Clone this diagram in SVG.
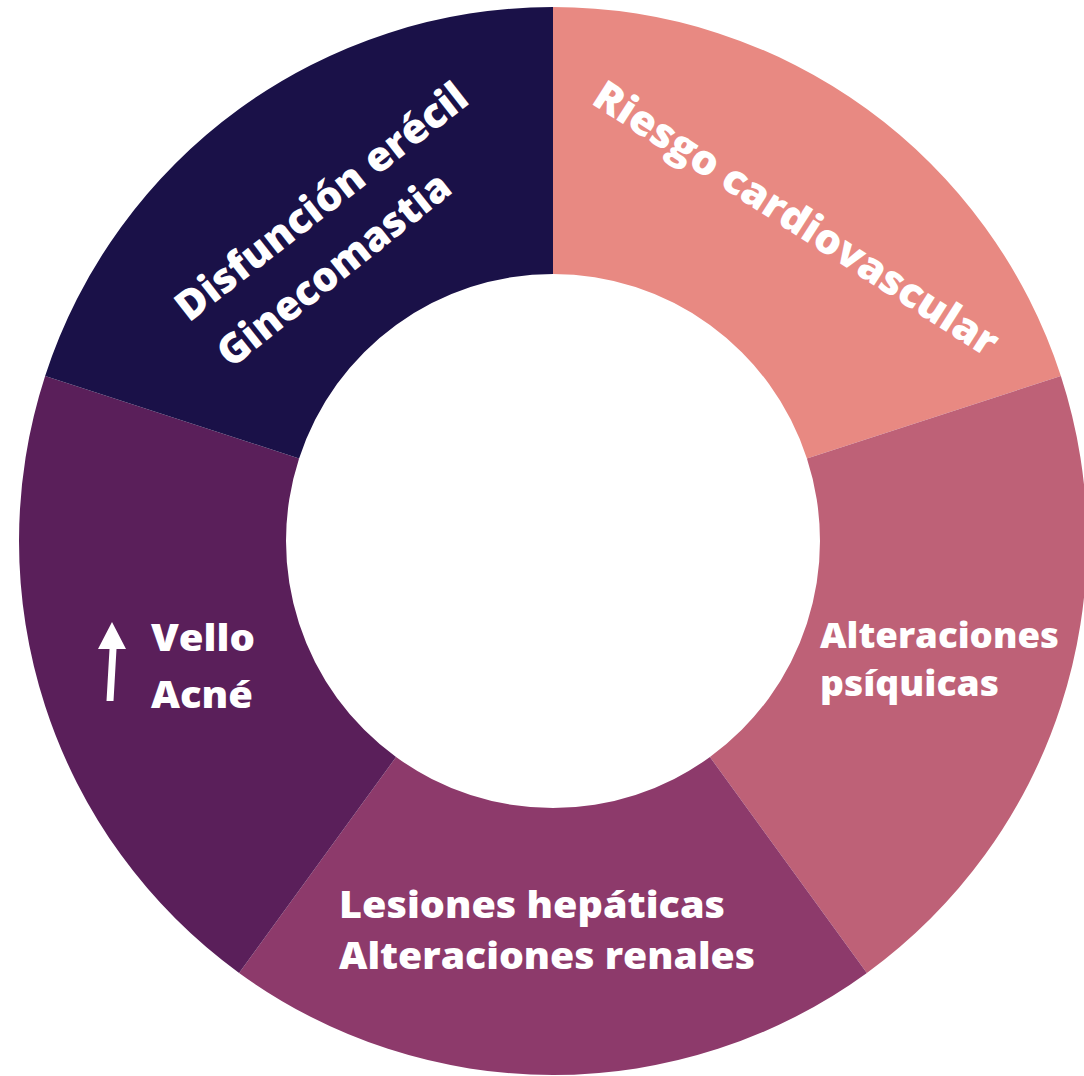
<svg xmlns="http://www.w3.org/2000/svg" width="1084" height="1076" viewBox="0 0 1084 1076">
<style>
.lbl{font-family:"Open Sans","Liberation Sans",sans-serif;font-weight:800;fill:#ffffff;}
.big{font-size:41px;}
.mid{font-size:37px;}
.sm{font-size:35px;}
</style>
<rect width="1084" height="1076" fill="#ffffff"/>
<g id="riesgo-cardiovascular">
<path d="M553,7 A534,534 0 0 1 1060.86,375.99 L806.93,458.49 A267,267 0 0 0 553,274 Z" fill="#E88982"/>
<text class="lbl big" transform="translate(590,103) rotate(32.7)" textLength="472" lengthAdjust="spacingAndGlyphs">Riesgo cardiovascular</text>
</g>
<g id="alteraciones-psiquicas">
<path d="M1060.86,375.99 A534,534 0 0 1 866.88,973.01 L709.94,757.01 A267,267 0 0 0 806.93,458.49 Z" fill="#BE6177"/>
<text class="lbl sm" x="820" y="648" textLength="239" lengthAdjust="spacingAndGlyphs">Alteraciones</text>
<text class="lbl sm" x="820" y="696" textLength="179" lengthAdjust="spacingAndGlyphs">psíquicas</text>
</g>
<g id="lesiones-hepaticas">
<path d="M866.88,973.01 A534,534 0 0 1 239.12,973.01 L396.06,757.01 A267,267 0 0 0 709.94,757.01 Z" fill="#8D3A6B"/>
<text class="lbl mid" x="339" y="918" textLength="386" lengthAdjust="spacingAndGlyphs">Lesiones hepáticas</text>
<text class="lbl mid" x="339" y="969" textLength="416" lengthAdjust="spacingAndGlyphs">Alteraciones renales</text>
</g>
<g id="vello-acne">
<path d="M239.12,973.01 A534,534 0 0 1 45.14,375.99 L299.07,458.49 A267,267 0 0 0 396.06,757.01 Z" fill="#5A1F5A"/>
<polygon points="112,622 126,649 116.5,649 113.5,701 106.5,701 109.5,649 98,649" fill="#ffffff"/>
<text class="lbl mid" x="151" y="651" textLength="104" lengthAdjust="spacingAndGlyphs">Vello</text>
<text class="lbl mid" x="151" y="708" textLength="102" lengthAdjust="spacingAndGlyphs">Acné</text>
</g>
<g id="disfuncion-erectil">
<path d="M45.14,375.99 A534,534 0 0 1 553,7 L553,274 A267,267 0 0 0 299.07,458.49 Z" fill="#1A1148"/>
<text class="lbl big" transform="translate(189,323) rotate(-38)" textLength="358" lengthAdjust="spacingAndGlyphs">Disfunción erécil</text>
<text class="lbl big" transform="translate(231,369) rotate(-38.5)" textLength="285" lengthAdjust="spacingAndGlyphs">Ginecomastia</text>
</g>
</svg>
